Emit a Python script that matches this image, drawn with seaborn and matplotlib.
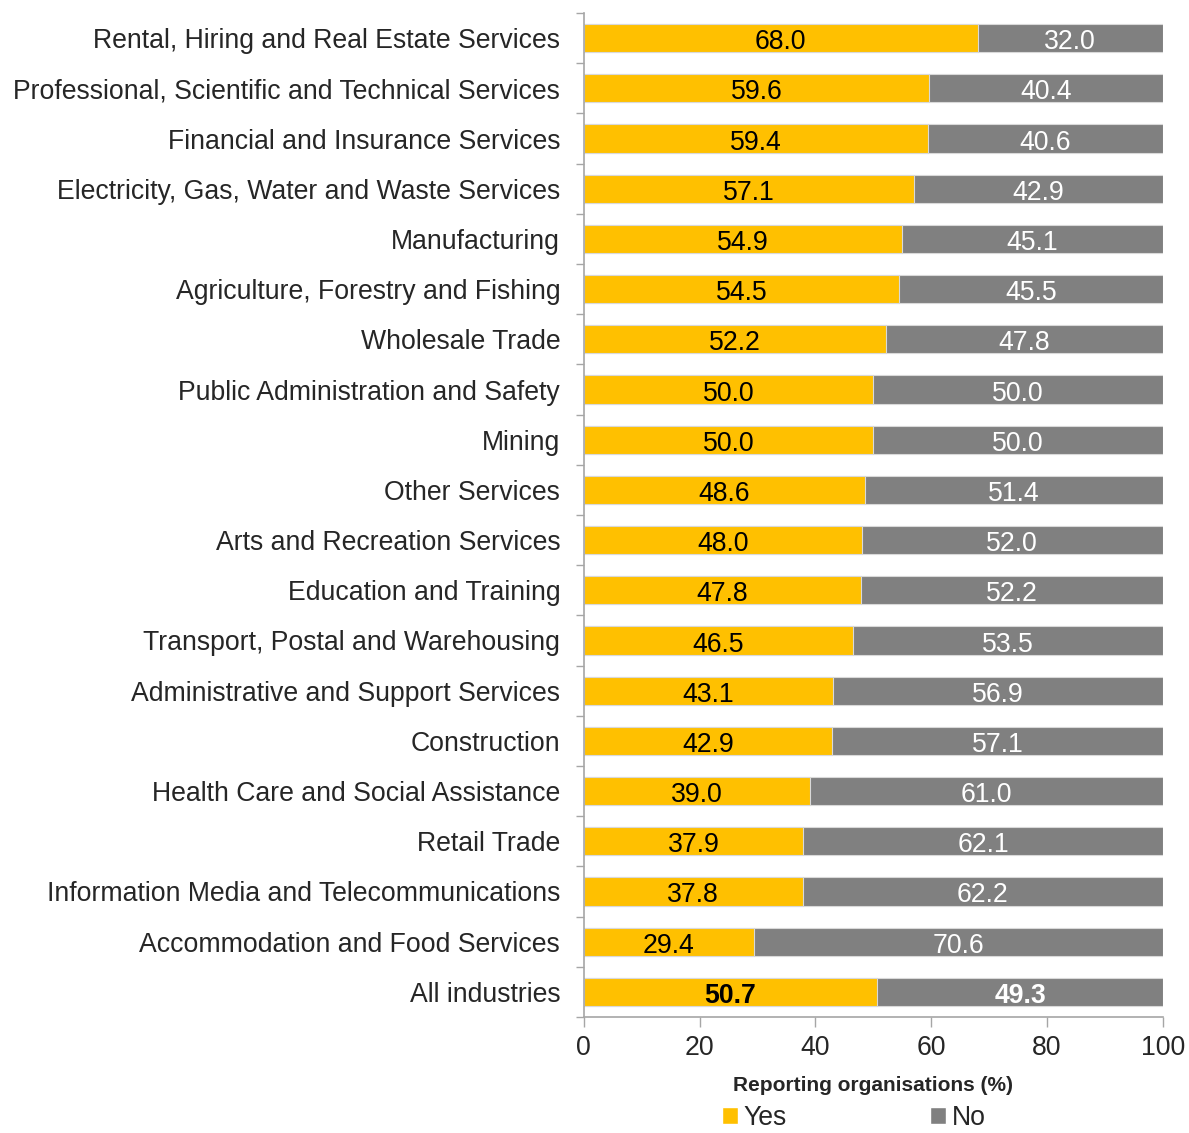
import matplotlib
matplotlib.use('Agg')
import matplotlib.pyplot as plt
import seaborn as sns
import pandas as pd
from matplotlib.patches import Patch
from matplotlib.ticker import FixedLocator

sns.set_style("white")
plt.rcParams['font.family'] = ['Liberation Sans', 'DejaVu Sans']

# data
industries = [
    "Rental, Hiring and Real Estate Services",
    "Professional, Scientific and Technical Services",
    "Financial and Insurance Services",
    "Electricity, Gas, Water and Waste Services",
    "Manufacturing",
    "Agriculture, Forestry and Fishing",
    "Wholesale Trade",
    "Public Administration and Safety",
    "Mining",
    "Other Services",
    "Arts and Recreation Services",
    "Education and Training",
    "Transport, Postal and Warehousing",
    "Administrative and Support Services",
    "Construction",
    "Health Care and Social Assistance",
    "Retail Trade",
    "Information Media and Telecommunications",
    "Accommodation and Food Services",
    "All industries",
]
yes_pct = [68.0, 59.6, 59.4, 57.1, 54.9, 54.5, 52.2, 50.0, 50.0, 48.6,
           48.0, 47.8, 46.5, 43.1, 42.9, 39.0, 37.9, 37.8, 29.4, 50.7]
no_pct = [32.0, 40.4, 40.6, 42.9, 45.1, 45.5, 47.8, 50.0, 50.0, 51.4,
          52.0, 52.2, 53.5, 56.9, 57.1, 61.0, 62.1, 62.2, 70.6, 49.3]

YES_COL = '#FFC000'
NO_COL = '#808080'
SPINE = '#a6a6a6'
FS = 19.2

df = pd.DataFrame({'industry': industries, 'yes': yes_pct, 'no': no_pct})
df['total'] = df['yes'] + df['no']

fig = plt.figure(figsize=(11.89, 11.33), dpi=100)
ax = fig.add_axes([0.491, 0.1024, 0.487, 0.8861])

# stacked: draw total (No) first, then Yes on top
sns.barplot(data=df, y='industry', x='total', color=NO_COL, orient='h',
            width=0.56, saturation=1, ax=ax, edgecolor='#d9d9d9', linewidth=0.8)
sns.barplot(data=df, y='industry', x='yes', color=YES_COL, orient='h',
            width=0.56, saturation=1, ax=ax, edgecolor='#d9d9d9', linewidth=0.8)

# value labels
n = len(df)
for i, row in df.iterrows():
    bold = 'bold' if row['industry'] == 'All industries' else 'normal'
    ax.text(row['yes'] / 2, i + 0.02, f"{row['yes']:.1f}", ha='center', va='center_baseline',
            fontsize=FS, color='black', fontweight=bold)
    ax.text(row['yes'] + row['no'] / 2, i + 0.02, f"{row['no']:.1f}", ha='center',
            va='center_baseline', fontsize=FS, color='white', fontweight=bold)

ax.set_xlim(0, 100)
ax.set_ylim(n - 0.5, -0.5)
ax.set_xticks([0, 20, 40, 60, 80, 100])
ax.tick_params(axis='x', labelsize=FS, length=7, width=1, color=SPINE, direction='out',
               bottom=True, pad=6)
ax.tick_params(axis='y', which='major', labelsize=FS, length=0, pad=17)
ax.yaxis.set_minor_locator(FixedLocator([k - 0.5 for k in range(n + 1)]))
ax.tick_params(axis='y', which='minor', length=6, width=1, color=SPINE, direction='out', left=True)

ax.set_ylabel('')
ax.set_xlabel('Reporting organisations (%)', fontsize=15, fontweight='bold', labelpad=11)

for s in ['top', 'right']:
    ax.spines[s].set_visible(False)
for s in ['left', 'bottom']:
    ax.spines[s].set_color(SPINE)
    ax.spines[s].set_linewidth(1.2)

handles = [Patch(facecolor=YES_COL, label='Yes'), Patch(facecolor=NO_COL, label='No')]
fig.legend(handles=handles, loc='lower center', bbox_to_anchor=(0.718, -0.019), ncol=2,
           frameon=False, fontsize=FS, handlelength=0.6, handleheight=0.6,
           handletextpad=0.2, columnspacing=5.4)

fig.savefig('out.png', dpi=100)
